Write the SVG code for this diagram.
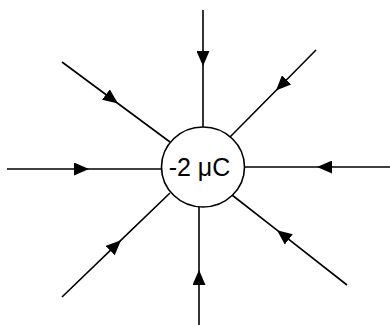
<svg xmlns="http://www.w3.org/2000/svg" width="390" height="325" viewBox="0 0 390 325">
<style>
.c{fill:none;stroke:#000;stroke-width:1.6;marker-mid:url(#ah)}
.n{fill:#fff;stroke:#000;stroke-width:1.6}
.t{font-family:"Liberation Sans",Arial,sans-serif;font-size:25px;fill:#000}
</style>
<defs>
<marker id="ah" viewBox="0 0 15 13" refX="15" refY="6.5" markerWidth="15" markerHeight="13" markerUnits="userSpaceOnUse" orient="auto">
<path d="M0,0 L15,6.5 L0,13 z" fill="#000"/>
</marker>
</defs>
<g id="connectors">
<polyline class="c" points="203,10 203,66 203,127"/>
<polyline class="c" points="62,62 118,103.5 170,142"/>
<polyline class="c" points="316,50 276,90.5 230,137"/>
<polyline class="c" points="7,169 89,169 161,169"/>
<polyline class="c" points="390,167 317,167 244,167"/>
<polyline class="c" points="62,297 121,240.2 170,193"/>
<polyline class="c" points="199,325 199,270 199,207"/>
<polyline class="c" points="347,285 277,230.2 232,195"/>
</g>
<g id="charge">
<ellipse class="n" cx="203" cy="167" rx="41.5" ry="40"/>
<text class="t" x="199.5" y="175.5" text-anchor="middle">-2 μC</text>
</g>
</svg>
